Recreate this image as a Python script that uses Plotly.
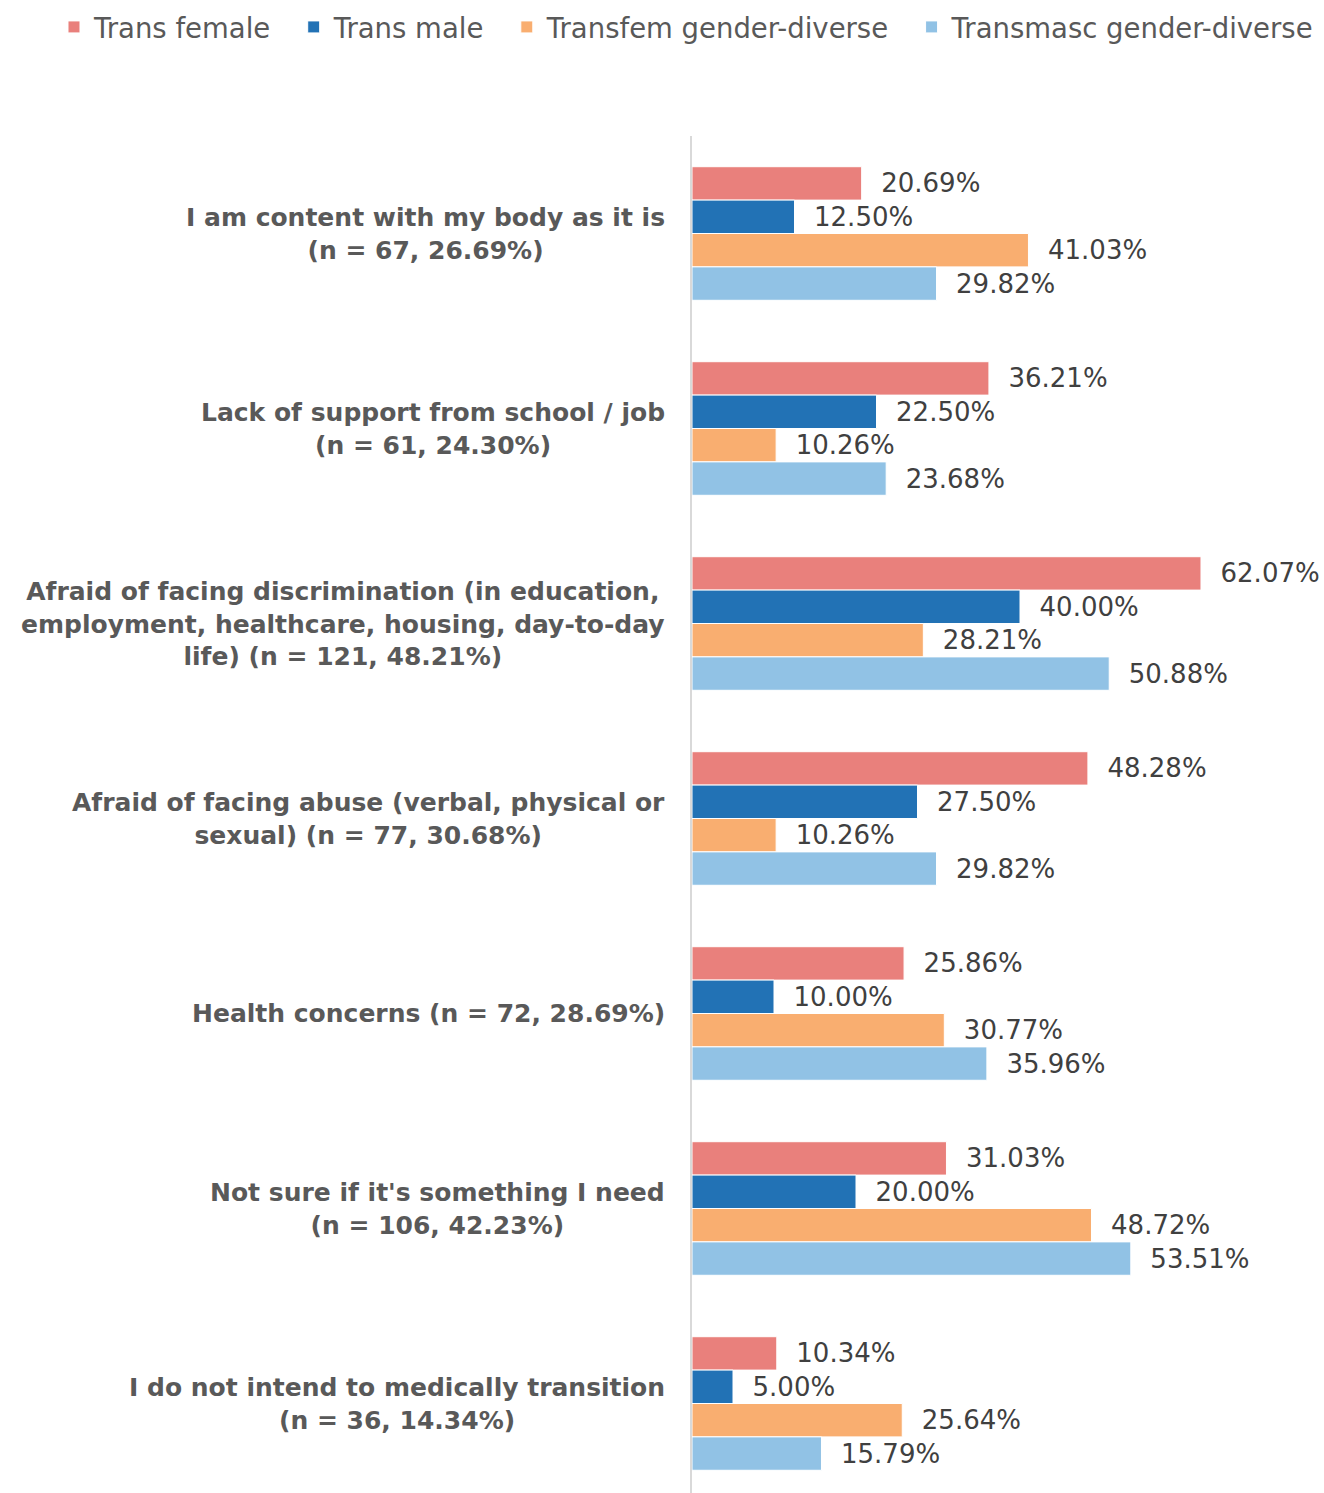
import plotly.graph_objects as go

# Reasons for not pursuing medical transition, by gender group
categories = [
    "I am content with my body as it is<br>(n = 67, 26.69%)",
    "Lack of support from school / job<br>(n = 61, 24.30%)",
    "Afraid of facing discrimination (in education,<br>employment, healthcare, housing, day-to-day<br>life) (n = 121, 48.21%)",
    "Afraid of facing abuse (verbal, physical or<br>sexual) (n = 77, 30.68%)",
    "Health concerns (n = 72, 28.69%)",
    "Not sure if it's something I need<br>(n = 106, 42.23%)",
    "I do not intend to medically transition<br>(n = 36, 14.34%)",
]

trans_female = [20.69, 36.21, 62.07, 48.28, 25.86, 31.03, 10.34]
trans_male = [12.50, 22.50, 40.00, 27.50, 10.00, 20.00, 5.00]
transfem_gd = [41.03, 10.26, 28.21, 10.26, 30.77, 48.72, 25.64]
transmasc_gd = [29.82, 23.68, 50.88, 29.82, 35.96, 53.51, 15.79]

series_names = ["Trans female", "Trans male", "Transfem gender-diverse", "Transmasc gender-diverse"]
series_values = [trans_female, trans_male, transfem_gd, transmasc_gd]
series_colors = ["#E9807C", "#2272B5", "#F9AE70", "#91C2E5"]

FONT = "DejaVu Sans"
GREY = "#595959"
LEGEND_PAD = "\u00a0\u00a0"  # extra room between legend entries

fig = go.Figure()
for i, (name, vals, color) in enumerate(zip(series_names, series_values, series_colors)):
    is_last = i == len(series_names) - 1
    fig.add_trace(go.Bar(
        name=name if is_last else name + LEGEND_PAD,
        y=categories,
        x=vals,
        orientation="h",
        marker=dict(color=color, line=dict(color="white", width=1)),
        texttemplate="\u00a0\u00a0%{x:.2f}%",
        textposition="outside",
        constraintext="none",
        cliponaxis=False,
        textfont=dict(family=FONT, size=26, color="#404040"),
        hoverinfo="skip",
    ))

# Category labels, centred line by line, to the left of the axis
for cat in categories:
    fig.add_annotation(
        x=0, xref="paper", y=cat, yref="y",
        text=cat, showarrow=False,
        xanchor="right", yanchor="middle", align="center",
        xshift=-25,
        font=dict(family=FONT, size=25, color=GREY, weight="bold"),
    )

fig.update_layout(
    width=1324, height=1493,
    margin=dict(l=692, r=0, t=136, b=0),
    paper_bgcolor="white", plot_bgcolor="white",
    barmode="group", bargap=0.315, bargroupgap=0,
    showlegend=True,
    legend=dict(
        orientation="h",
        xref="paper", yref="paper",
        x=-1.0095, xanchor="left",
        y=1.0803, yanchor="middle",
        font=dict(family=FONT, size=27.5, color=GREY),
        traceorder="normal",
    ),
    xaxis=dict(range=[0, 77.07], visible=False, fixedrange=True),
    yaxis=dict(
        categoryorder="array", categoryarray=categories,
        range=[6.459, -0.5],
        showticklabels=False, ticks="",
        showline=True, linecolor="#D9D9D9", linewidth=2,
        showgrid=False, zeroline=False, fixedrange=True,
    ),
)

fig.write_html("out.html")
